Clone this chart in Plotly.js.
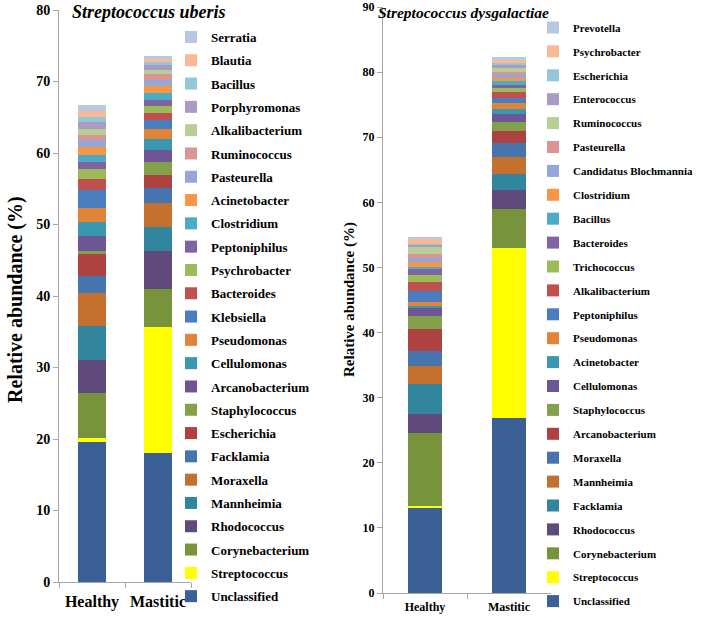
<!DOCTYPE html>
<html>
<head>
<meta charset="utf-8">
<script src="https://cdn.plot.ly/plotly-3.0.1.min.js"></script>
<style>html,body{margin:0;padding:0;background:#fff;}#chart{width:708px;height:622px;}</style>
</head>
<body>
<div id="chart"></div>
<script>
var groups = ["Healthy", "Mastitic"];

var uberisTaxa = ["Unclassified","Streptococcus","Corynebacterium","Rhodococcus","Mannheimia","Moraxella","Facklamia","Escherichia","Staphylococcus","Arcanobacterium","Cellulomonas","Pseudomonas","Klebsiella","Bacteroides","Psychrobacter","Peptoniphilus","Clostridium","Acinetobacter","Pasteurella","Ruminococcus","Alkalibacterium","Porphyromonas","Bacillus","Blautia","Serratia"];
var uberisHealthy = [19.6,0.56,6.25,4.66,4.8,4.53,2.46,3.0,0.42,2.14,2.0,1.82,2.52,1.6,1.4,0.98,0.98,1.06,0.98,0.8,0.8,0.92,0.75,0.78,0.93];
var uberisMastitic = [18.0,17.7,5.27,5.27,3.44,3.27,2.1,1.86,1.86,1.63,1.58,1.31,1.3,1.02,0.93,0.93,0.88,0.98,0.94,0.74,0.56,0.7,0.46,0.48,0.32];

var dysTaxa = ["Unclassified","Streptococcus","Corynebacterium","Rhodococcus","Facklamia","Mannheimia","Moraxella","Arcanobacterium","Staphylococcus","Cellulomonas","Acinetobacter","Pseudomonas","Peptoniphilus","Alkalibacterium","Trichococcus","Bacteroides","Bacillus","Clostridium","Candidatus Blochmannia","Pasteurella","Ruminococcus","Enterococcus","Escherichia","Psychrobacter","Prevotella"];
var dysHealthy = [13.06,0.3,11.2,2.97,4.6,2.76,2.35,3.38,1.95,1.18,0.3,0.67,1.59,1.38,1.13,0.92,0.35,0.81,0.61,0.51,1.13,0.25,0.25,0.72,0.31];
var dysMastitic = [26.9,26.1,6.04,2.82,2.56,2.56,2.1,1.8,1.43,1.28,0.77,0.87,0.82,0.82,0.67,0.51,0.51,0.56,0.41,0.56,0.51,0.46,0.41,0.46,0.41];

var palette = ["#3B6095","#FFFF00","#77933C","#604A7B","#31859C","#C4712F","#4674AF","#AE4240","#83A04A","#6E5696","#3998B0","#E2833A","#4A7DC0","#C0504D","#9BBB59","#8064A2","#4BACC6","#F79646","#95A7D7","#D99694","#B9CD96","#AA9BC4","#93C7D8","#FAB992","#B8C7E2"];

var serif = "Liberation Serif, Times New Roman, serif";
var traces = [];
uberisTaxa.forEach(function (name, i) {
  traces.push({
    type: "bar", x: groups, y: [uberisHealthy[i], uberisMastitic[i]], name: name,
    xaxis: "x", yaxis: "y", legend: "legend", legendgroup: "u" + i, legendrank: 100 - i,
    marker: {color: palette[i], line: {width: 0}}, hoverinfo: "name+y"
  });
});
dysTaxa.forEach(function (name, i) {
  traces.push({
    type: "bar", x: groups, y: [dysHealthy[i], dysMastitic[i]], name: name,
    xaxis: "x2", yaxis: "y2", legend: "legend2", legendgroup: "d" + i, legendrank: 100 - i,
    marker: {color: palette[i], line: {width: 0}}, hoverinfo: "name+y"
  });
});

var W = 708, H = 622;
function px(x) { return x / W; }
function py(y) { return 1 - y / H; }
var axisCol = "#A6A6A6";

var layout = {
  width: W, height: H,
  margin: {l: 0, r: 0, t: 0, b: 0, autoexpand: false},
  paper_bgcolor: "#fff", plot_bgcolor: "#fff",
  barmode: "stack", bargap: 0.59,
  showlegend: true,
  font: {family: serif, color: "#000"},
  xaxis: {
    domain: [px(59), px(191)], anchor: "y", type: "category",
    showline: true, linecolor: axisCol, linewidth: 1,
    ticks: "outside", tickson: "boundaries", ticklen: 5, tickcolor: axisCol,
    ticklabelstandoff: 5,
    tickfont: {family: serif, size: 16, color: "#000", weight: "bold"},
    showgrid: false, zeroline: false, fixedrange: true
  },
  yaxis: {
    domain: [py(582), py(10)], anchor: "x", range: [0, 80], dtick: 10,
    showline: true, linecolor: axisCol, linewidth: 1,
    ticks: "outside", ticklen: 5, tickcolor: axisCol,
    tickfont: {family: serif, size: 14, color: "#000", weight: "bold"},
    showgrid: false, zeroline: false, fixedrange: true
  },
  xaxis2: {
    domain: [px(383), px(551)], anchor: "y2", type: "category",
    showline: true, linecolor: axisCol, linewidth: 1,
    ticks: "outside", tickson: "boundaries", ticklen: 5, tickcolor: axisCol,
    ticklabelstandoff: 3,
    tickfont: {family: serif, size: 12, color: "#000", weight: "bold"},
    showgrid: false, zeroline: false, fixedrange: true
  },
  yaxis2: {
    domain: [py(593), py(7)], anchor: "x2", range: [0, 90], dtick: 10,
    showline: true, linecolor: axisCol, linewidth: 1,
    ticks: "outside", ticklen: 5, tickcolor: axisCol,
    tickfont: {family: serif, size: 12, color: "#000", weight: "bold"},
    showgrid: false, zeroline: false, fixedrange: true
  },
  legend: {
    x: px(171), xanchor: "left", y: py(22), yanchor: "top",
    traceorder: "grouped", tracegroupgap: 3.4,
    bgcolor: "rgba(0,0,0,0)", borderwidth: 0,
    font: {family: serif, size: 13, color: "#000", weight: "bold"}
  },
  legend2: {
    x: px(533), xanchor: "left", y: py(13), yanchor: "top",
    traceorder: "grouped", tracegroupgap: 4.9,
    bgcolor: "rgba(0,0,0,0)", borderwidth: 0,
    font: {family: serif, size: 11, color: "#000", weight: "bold"}
  },
  annotations: [
    {text: "<b><i>Streptococcus uberis</i></b>", xref: "paper", yref: "paper",
     x: px(70), y: py(12), xanchor: "left", yanchor: "middle", showarrow: false,
     font: {family: serif, size: 18, color: "#000"}},
    {text: "<b><i>Streptococcus dysgalactiae</i></b>", xref: "paper", yref: "paper",
     x: px(376), y: py(12), xanchor: "left", yanchor: "middle", showarrow: false,
     font: {family: serif, size: 15.5, color: "#000"}},
    {text: "<b>Relative abundance (%)</b>", xref: "paper", yref: "paper",
     x: px(15), y: py(300), xanchor: "center", yanchor: "middle", showarrow: false, textangle: -90,
     font: {family: serif, size: 20, color: "#000"}},
    {text: "<b>Relative abundance (%)</b>", xref: "paper", yref: "paper",
     x: px(349), y: py(300), xanchor: "center", yanchor: "middle", showarrow: false, textangle: -90,
     font: {family: serif, size: 15, color: "#000"}}
  ]
};

Plotly.newPlot("chart", traces, layout, {displayModeBar: false, staticPlot: true});
</script>
</body>
</html>
